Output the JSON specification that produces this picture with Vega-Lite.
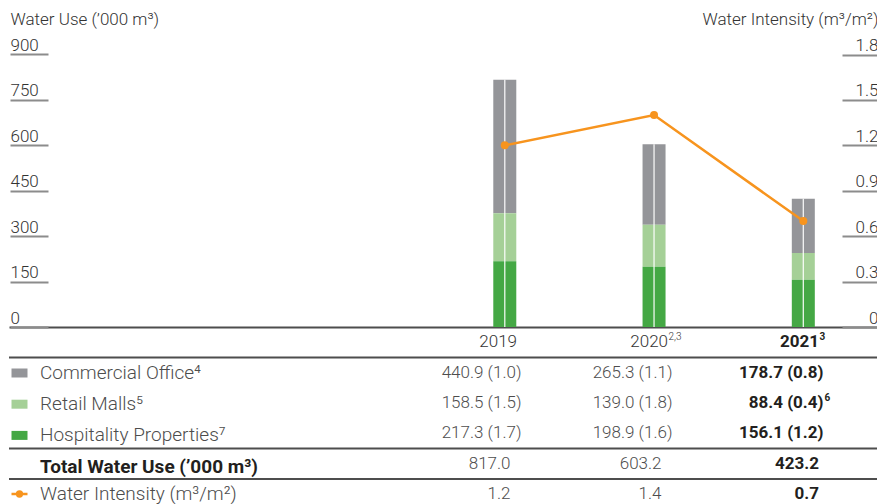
{
  "$schema": "https://vega.github.io/schema/vega-lite/v6.json",
  "padding": {"left": 8, "top": 0, "right": 0, "bottom": 0},
  "background": "white",
  "config": {"font": "Roboto", "view": {"stroke": null}, "text": {"font": "Roboto"}},
  "datasets": {
    "use": [
      {"year": 2019, "series": "Commercial Office", "value": 440.9},
      {"year": 2019, "series": "Retail Malls", "value": 158.5},
      {"year": 2019, "series": "Hospitality Properties", "value": 217.3},
      {"year": 2020, "series": "Commercial Office", "value": 265.3},
      {"year": 2020, "series": "Retail Malls", "value": 139.0},
      {"year": 2020, "series": "Hospitality Properties", "value": 198.9},
      {"year": 2021, "series": "Commercial Office", "value": 178.7},
      {"year": 2021, "series": "Retail Malls", "value": 88.4},
      {"year": 2021, "series": "Hospitality Properties", "value": 156.1}
    ],
    "intensity": [
      {"year": 2019, "intensity": 1.2},
      {"year": 2020, "intensity": 1.4},
      {"year": 2021, "intensity": 0.7}
    ],
    "table": [
      {"row": "header", "year": 2019, "text": "2019", "sup": ""},
      {"row": "header", "year": 2020, "text": "2020", "sup": "2,3"},
      {"row": "header", "year": 2021, "text": "2021", "sup": "3"},
      {"row": "Commercial Office", "year": 2019, "text": "440.9 (1.0)", "sup": ""},
      {"row": "Commercial Office", "year": 2020, "text": "265.3 (1.1)", "sup": ""},
      {"row": "Commercial Office", "year": 2021, "text": "178.7 (0.8)", "sup": ""},
      {"row": "Retail Malls", "year": 2019, "text": "158.5 (1.5)", "sup": ""},
      {"row": "Retail Malls", "year": 2020, "text": "139.0 (1.8)", "sup": ""},
      {"row": "Retail Malls", "year": 2021, "text": "88.4 (0.4)", "sup": "6"},
      {"row": "Hospitality Properties", "year": 2019, "text": "217.3 (1.7)", "sup": ""},
      {"row": "Hospitality Properties", "year": 2020, "text": "198.9 (1.6)", "sup": ""},
      {"row": "Hospitality Properties", "year": 2021, "text": "156.1 (1.2)", "sup": ""},
      {"row": "Total", "year": 2019, "text": "817.0", "sup": ""},
      {"row": "Total", "year": 2020, "text": "603.2", "sup": ""},
      {"row": "Total", "year": 2021, "text": "423.2", "sup": ""},
      {"row": "Intensity", "year": 2019, "text": "1.2", "sup": ""},
      {"row": "Intensity", "year": 2020, "text": "1.4", "sup": ""},
      {"row": "Intensity", "year": 2021, "text": "0.7", "sup": ""}
    ],
    "separators": [
      {"row": "Commercial Office"},
      {"row": "Total"},
      {"row": "Intensity"}
    ]
  },
  "bounds": "flush",
  "spacing": 0,
  "vconcat": [
    {
      "width": 869,
      "height": 327,
      "layer": [
        {
          "data": {"name": "use"},
          "transform": [
            {"calculate": "indexof(['Hospitality Properties','Retail Malls','Commercial Office'], datum.series)", "as": "stackOrder"}
          ],
          "encoding": {
            "x": {
              "field": "year", "type": "quantitative",
              "scale": {"domain": [2015.7119, 2021.4669], "nice": false, "zero": false},
              "axis": {"title": null, "labels": false, "ticks": false, "grid": false, "domain": true, "domainColor": "#4d4d4d", "domainWidth": 2}
            }
          },
          "layer": [
            {
              "mark": {"type": "bar", "size": 23, "orient": "vertical"},
              "encoding": {
                "y": {
                  "field": "value", "type": "quantitative", "stack": "zero",
                  "scale": {"domain": [0, 1080], "nice": false},
                  "axis": {
                    "orient": "left", "offset": -39, "values": [0, 150, 300, 450, 600, 750, 900], "format": "d",
                    "tickSize": 38, "tickColor": "#8c8c8c", "tickWidth": 2, "domain": false, "grid": false,
                    "labelAlign": "left", "labelBaseline": "alphabetic", "labelPadding": 0, "labelOffset": -4,
                    "labelFontSize": 17, "labelFontWeight": 300, "labelColor": "#333333", "labelFont": "Roboto", "labelFlush": false, "labelOverlap": false,
                    "title": "Water Use (’000 m³)", "titleAngle": 0, "titleAlign": "left", "titleBaseline": "alphabetic",
                    "titleX": -38, "titleY": 24, "titleFontSize": 17, "titleFontWeight": 300, "titleColor": "#333333", "titleFont": "Roboto"
                  }
                },
                "color": {
                  "field": "series", "type": "nominal",
                  "scale": {
                    "domain": ["Commercial Office", "Retail Malls", "Hospitality Properties", "Total"],
                    "range": ["#949599", "#a5d097", "#44a844", "rgba(0,0,0,0)"]
                  },
                  "legend": {
                    "orient": "none", "legendX": 1, "legendY": 363.5, "direction": "vertical", "title": null, "padding": 0,
                    "symbolType": "M-1,-0.5625H1V0.5625H-1Z", "symbolSize": 256, "symbolStrokeWidth": 0,
                    "labelFontSize": 19, "labelColor": "#4d4d4d", "labelFont": "Roboto", "labelOffset": 11,
                    "rowPadding": 11.2, "labelLimit": 400,
                    "labelExpr": "datum.value == 'Commercial Office' ? 'Commercial Office⁴' : datum.value == 'Retail Malls' ? 'Retail Malls⁵' : datum.value == 'Hospitality Properties' ? 'Hospitality Properties⁷' : 'Total Water Use (’000 m³)'",
                    "encode": {
                      "labels": {
                        "update": {
                          "fontWeight": {"signal": "datum.value === 'Total' ? 'bold' : 300"},
                          "fill": {"signal": "datum.value === 'Total' ? '#231f20' : '#4d4d4d'"}
                        }
                      }
                    }
                  }
                },
                "order": {"field": "stackOrder", "type": "quantitative"}
              }
            },
            {
              "mark": {"type": "rule", "color": "white", "strokeWidth": 1.3, "opacity": 0.9},
              "encoding": {
                "y": {"aggregate": "sum", "field": "value", "type": "quantitative"},
                "y2": {"datum": 0}
              }
            }
          ]
        },
        {
          "data": {"name": "intensity"},
          "encoding": {
            "x": {"field": "year", "type": "quantitative"},
            "y": {
              "field": "intensity", "type": "quantitative",
              "scale": {"domain": [0, 2.16], "nice": false},
              "axis": {
                "orient": "right", "offset": -36, "values": [0, 0.3, 0.6, 0.9, 1.2, 1.5, 1.8],
                "labelExpr": "datum.value == 0 ? '0' : format(datum.value, '.1f')",
                "tickSize": 36, "tickColor": "#8c8c8c", "tickWidth": 2, "domain": false, "grid": false,
                "labelAlign": "right", "labelBaseline": "alphabetic", "labelPadding": 0, "labelOffset": -4,
                "labelFontSize": 17, "labelFontWeight": 300, "labelColor": "#333333", "labelFont": "Roboto", "labelFlush": false, "labelOverlap": false,
                "title": "Water Intensity (m³/m²)", "titleAngle": 0, "titleAlign": "right", "titleBaseline": "alphabetic",
                "titleX": 36, "titleY": 24, "titleFontSize": 17, "titleFontWeight": 300, "titleColor": "#333333", "titleFont": "Roboto"
              }
            }
          },
          "layer": [
            {
              "mark": {"type": "line", "strokeWidth": 2.5},
              "encoding": {
                "stroke": {
                  "datum": "Water Intensity", "type": "nominal",
                  "scale": {"domain": ["Water Intensity"], "range": ["#f7941e"]},
                  "legend": {
                    "orient": "none", "legendX": 1, "legendY": 484.5, "title": null, "padding": 0,
                    "symbolType": "M-1,0H1M0.3,0A0.3,0.3 0 1,1 -0.3,0A0.3,0.3 0 1,1 0.3,0Z", "symbolSize": 256, "symbolStrokeWidth": 2.5,
                    "labelFontSize": 19, "labelFontWeight": 300, "labelColor": "#4d4d4d", "labelFont": "Roboto", "labelOffset": 11, "labelLimit": 400,
                    "labelExpr": "'Water Intensity (m³/m²)'",
                    "encode": {"symbols": {"update": {"fill": {"value": "#f7941e"}}}}
                  }
                }
              }
            },
            {
              "mark": {"type": "circle", "size": 64, "opacity": 1, "color": "#f7941e"}
            }
          ]
        }
      ],
      "resolve": {"scale": {"y": "independent"}}
    },
    {
      "width": 869,
      "height": 182.4,
      "data": {"name": "table"},
      "encoding": {
        "y": {
          "field": "row", "type": "nominal",
          "scale": {"domain": ["header", "Commercial Office", "Retail Malls", "Hospitality Properties", "Total", "Intensity"], "paddingInner": 0, "paddingOuter": 0},
          "axis": null
        }
      },
      "layer": [
        {
          "transform": [{"filter": "datum.row == 'header' && datum.year != 2021"}],
          "mark": {"type": "text", "align": "right", "baseline": "middle", "dx": 11.5, "fontSize": 17, "fontWeight": 300, "color": "#333333"},
          "encoding": {
            "x": {"field": "year", "type": "quantitative", "scale": {"domain": [2015.7119, 2021.4669], "nice": false, "zero": false}, "axis": null},
            "text": {"field": "text"}
          }
        },
        {
          "transform": [{"filter": "datum.row == 'header' && datum.year == 2021"}],
          "mark": {"type": "text", "align": "right", "baseline": "middle", "dx": 11.5, "fontSize": 17, "fontWeight": "bold", "color": "#231f20"},
          "encoding": {
            "x": {"field": "year", "type": "quantitative"},
            "text": {"field": "text"}
          }
        },
        {
          "transform": [{"filter": "datum.row == 'header' && datum.sup != '' && datum.year != 2021"}],
          "mark": {"type": "text", "align": "left", "baseline": "middle", "dx": 12, "dy": -5, "fontSize": 10, "fontWeight": 300, "color": "#333333"},
          "encoding": {
            "x": {"field": "year", "type": "quantitative"},
            "text": {"field": "sup"}
          }
        },
        {
          "transform": [{"filter": "datum.row == 'header' && datum.sup != '' && datum.year == 2021"}],
          "mark": {"type": "text", "align": "left", "baseline": "middle", "dx": 12, "dy": -5, "fontSize": 10, "fontWeight": "bold", "color": "#231f20"},
          "encoding": {
            "x": {"field": "year", "type": "quantitative"},
            "text": {"field": "sup"}
          }
        },
        {
          "transform": [{"filter": "datum.row != 'header' && datum.sup != ''"}],
          "mark": {"type": "text", "align": "left", "baseline": "middle", "dx": 17, "dy": -5, "fontSize": 10, "fontWeight": "bold", "color": "#231f20"},
          "encoding": {
            "x": {"field": "year", "type": "quantitative"},
            "text": {"field": "sup"}
          }
        },
        {
          "transform": [{"filter": "indexof(['Commercial Office','Retail Malls','Hospitality Properties'], datum.row) >= 0 && datum.year != 2021"}],
          "mark": {"type": "text", "align": "right", "baseline": "middle", "dx": 16, "fontSize": 17, "fontWeight": 300, "color": "#4d4d4d"},
          "encoding": {
            "x": {"field": "year", "type": "quantitative"},
            "text": {"field": "text"}
          }
        },
        {
          "transform": [{"filter": "indexof(['Commercial Office','Retail Malls','Hospitality Properties'], datum.row) >= 0 && datum.year == 2021"}],
          "mark": {"type": "text", "align": "right", "baseline": "middle", "dx": 16, "fontSize": 17, "fontWeight": "bold", "color": "#231f20"},
          "encoding": {
            "x": {"field": "year", "type": "quantitative"},
            "text": {"field": "text"}
          }
        },
        {
          "transform": [{"filter": "(datum.row == 'Total' || datum.row == 'Intensity') && datum.year != 2021"}],
          "mark": {"type": "text", "align": "right", "baseline": "middle", "dx": 5, "fontSize": 17, "fontWeight": 300, "color": "#4d4d4d"},
          "encoding": {
            "x": {"field": "year", "type": "quantitative"},
            "text": {"field": "text"}
          }
        },
        {
          "transform": [{"filter": "(datum.row == 'Total' || datum.row == 'Intensity') && datum.year == 2021"}],
          "mark": {"type": "text", "align": "right", "baseline": "middle", "dx": 11.5, "fontSize": 17, "fontWeight": "bold", "color": "#231f20"},
          "encoding": {
            "x": {"field": "year", "type": "quantitative"},
            "text": {"field": "text"}
          }
        },
        {
          "data": {"name": "separators"},
          "mark": {"type": "rule", "color": "#4d4d4d", "strokeWidth": 2},
          "encoding": {
            "y": {"field": "row", "type": "nominal", "bandPosition": 0}
          }
        }
      ]
    }
  ]
}
